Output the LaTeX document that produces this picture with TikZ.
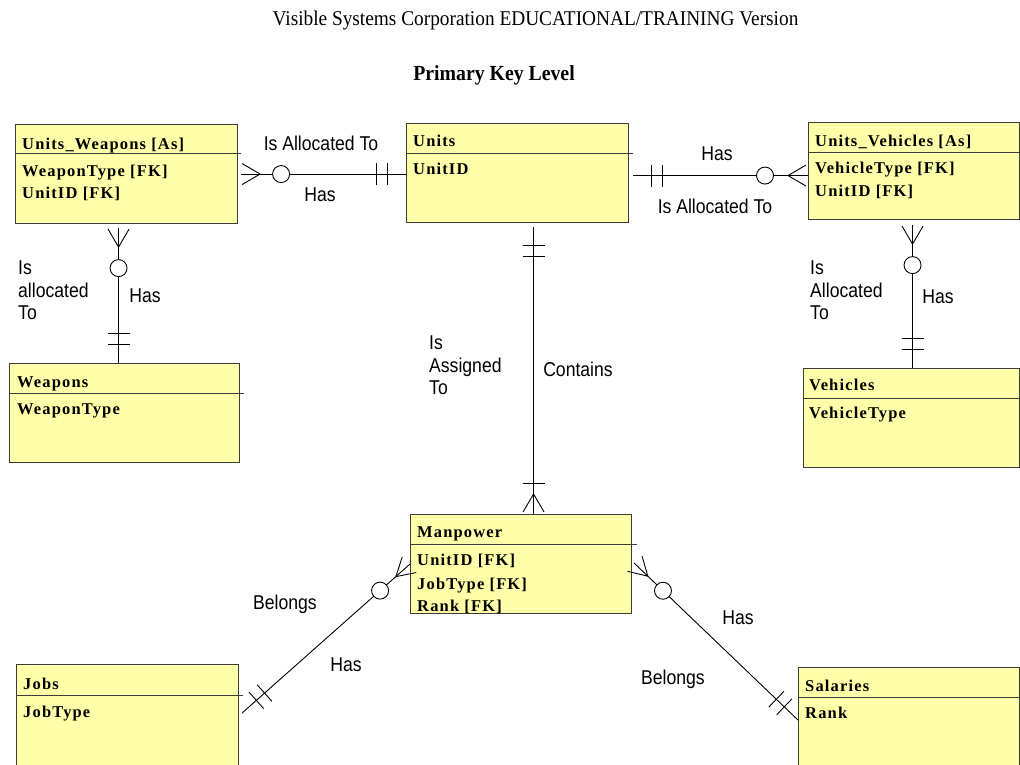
\documentclass[tikz,border=0pt]{standalone}
\usepackage{fontspec}
\setmainfont{Liberation Serif}
\newfontfamily\titlefont[FakeStretch=0.92]{Liberation Serif}
\newfontfamily\entfont[LetterSpace=7]{Liberation Serif}
\newfontfamily\labfont[FakeStretch=0.88]{Liberation Sans}
\usetikzlibrary{calc,decorations.markings}
\definecolor{entfill}{RGB}{255,255,170}
\definecolor{entline}{RGB}{60,60,60}
\tikzset{
  entity/.style={rectangle, draw=entline, line width=1.1pt, fill=entfill, anchor=north west, inner sep=0pt},
  sepline/.style={draw=entline, line width=1pt},
  etext/.style={anchor=base west, inner sep=0pt, font=\entfont\bfseries\fontsize{16.5}{18}\selectfont},
  rlabel/.style={anchor=base, inner sep=0pt, font=\labfont\fontsize{20}{22.5}\selectfont},
  rlabelm/.style={anchor=north west, inner sep=0pt, align=left, font=\labfont\fontsize{20}{22.5}\selectfont},
  conn/.style={draw=black, line width=0.9pt},
  tick/.style={draw=black, line width=0.9pt},
  crowS/.style={postaction={decorate,decoration={markings,
      mark=at position 19pt with {\draw[tick] (0pt,0pt) -- (-18pt,10.5pt) (0pt,0pt) -- (-18pt,-10.5pt);},
      mark=at position 40pt with {\draw[tick,fill=white] (0pt,0pt) circle (8.5pt);}}}},
  crowE/.style={postaction={decorate,decoration={markings,
      mark=at position -20pt with {\draw[tick] (0pt,0pt) -- (18pt,10.5pt) (0pt,0pt) -- (18pt,-10.5pt);},
      mark=at position -43pt with {\draw[tick,fill=white] (0pt,0pt) circle (8.5pt);}}}},
  manyE/.style={postaction={decorate,decoration={markings,
      mark=at position -20pt with {\draw[tick] (0pt,0pt) -- (18pt,10.5pt) (0pt,0pt) -- (18pt,-10.5pt);},
      mark=at position -31pt with {\draw[tick] (0pt,-11pt) -- (0pt,11pt);}}}},
  barsS/.style={postaction={decorate,decoration={markings,
      mark=at position 18pt with {\draw[tick] (0pt,-11pt) -- (0pt,11pt);},
      mark=at position 29pt with {\draw[tick] (0pt,-11pt) -- (0pt,11pt);}}}},
  barsE/.style={postaction={decorate,decoration={markings,
      mark=at position -19pt with {\draw[tick] (0pt,-11pt) -- (0pt,11pt);},
      mark=at position -30pt with {\draw[tick] (0pt,-11pt) -- (0pt,11pt);}}}},
}
\begin{document}
\begin{tikzpicture}[x=1pt,y=-1pt]
\useasboundingbox (0,0) rectangle (1020,764);
\fill[white] (0,0) rectangle (1020,764);
\clip (0,0) rectangle (1020,764);

% titles
\node[anchor=base, inner sep=0pt, font=\titlefont\fontsize{21}{24}\selectfont] (t1) at (535.5,25) {Visible Systems Corporation EDUCATIONAL/TRAINING Version};
\node[anchor=base, inner sep=0pt, font=\titlefont\bfseries\fontsize{21.5}{24}\selectfont] (t2) at (494,80) {Primary Key Level};

% entities
\node[entity, minimum width=222pt, minimum height=99pt] (uw) at (15,124) {};
\node[entity, minimum width=222pt, minimum height=99pt] (u) at (406,123) {};
\node[entity, minimum width=211pt, minimum height=97pt] (uv) at (808,122) {};
\node[entity, minimum width=230pt, minimum height=99pt] (w) at (9,363) {};
\node[entity, minimum width=216pt, minimum height=99pt] (v) at (803,368) {};
\node[entity, minimum width=221pt, minimum height=99pt] (mp) at (410,514) {};
\node[entity, minimum width=222pt, minimum height=130pt] (jobs) at (16,664) {};
\node[entity, minimum width=221pt, minimum height=130pt] (sal) at (798,667) {};

% separators
\draw[sepline] ($(uw.north west)+(0,29)$) -- ($(uw.north east)+(3,29)$);
\draw[sepline] ($(u.north west)+(0,30)$) -- ($(u.north east)+(4,30)$);
\draw[sepline] ($(uv.north west)+(0,30)$) -- ($(uv.north east)+(0,30)$);
\draw[sepline] ($(w.north west)+(0,30)$) -- ($(w.north east)+(4,30)$);
\draw[sepline] ($(v.north west)+(0,30)$) -- ($(v.north east)+(0,30)$);
\draw[sepline] ($(mp.north west)+(0,30)$) -- ($(mp.north east)+(5,30)$);
\draw[sepline] ($(jobs.north west)+(0,31)$) -- ($(jobs.north east)+(4,31)$);
\draw[sepline] ($(sal.north west)+(0,30)$) -- ($(sal.north east)+(0,30)$);

% entity texts
\node[etext] (uwh) at ($(uw.north west)+(7,25)$) {Units\_Weapons [As]};
\node[etext] (uw1) at ($(uw.north west)+(7,52)$) {WeaponType [FK]};
\node[etext] (uw2) at ($(uw.north west)+(7,74)$) {UnitID [FK]};
\node[etext] (uh) at ($(u.north west)+(7,23)$) {Units};
\node[etext] (u1) at ($(u.north west)+(7,51)$) {UnitID};
\node[etext] (uvh) at ($(uv.north west)+(7,24)$) {Units\_Vehicles [As]};
\node[etext] (uv1) at ($(uv.north west)+(7,51)$) {VehicleType [FK]};
\node[etext] (uv2) at ($(uv.north west)+(7,74)$) {UnitID [FK]};
\node[etext] (wh) at ($(w.north west)+(8,24)$) {Weapons};
\node[etext] (w1) at ($(w.north west)+(8,51)$) {WeaponType};
\node[etext] (vh) at ($(v.north west)+(6,22)$) {Vehicles};
\node[etext] (v1) at ($(v.north west)+(6,50)$) {VehicleType};
\node[etext] (mph) at ($(mp.north west)+(7,23)$) {Manpower};
\node[etext] (mp1) at ($(mp.north west)+(7,51)$) {UnitID [FK]};
\node[etext] (mp2) at ($(mp.north west)+(7,75)$) {JobType [FK]};
\node[etext] (mp3) at ($(mp.north west)+(7,97)$) {Rank [FK]};
\node[etext] (jh) at ($(jobs.north west)+(7,25)$) {Jobs};
\node[etext] (j1) at ($(jobs.north west)+(7,53)$) {JobType};
\node[etext] (sh) at ($(sal.north west)+(7,24)$) {Salaries};
\node[etext] (s1) at ($(sal.north west)+(7,51)$) {Rank};

% connector end points
\coordinate (uwB) at ($(uw.south)+(-8,4)$);
\coordinate (uvB) at ($(uv.south)+(-1.5,5)$);
\coordinate (uB) at ($(u.south)+(16,4)$);

% connectors
\draw[conn, crowS, barsE] ($(uw.east)+(3,0)$) -- (uw.east -| u.west);
\draw[conn, barsS, crowE] ($(u.east)+(4,2.5)$) -- ($(u.east -| uv.west)+(0,2.5)$);
\draw[conn, crowS, barsE] (uwB) -- (uwB |- w.north);
\draw[conn, crowS, barsE] (uvB) -- (uvB |- v.north);
\draw[conn, barsS, manyE] (uB) -- (uB |- mp.north);
\draw[conn, crowS, barsE] (mp.west) -- ($(jobs.north east)+(3,49)$);
\draw[conn, crowS, barsE] ($(mp.east)+(2,-1)$) -- ($(sal.north west)+(0,53)$);

% relationship labels
\node[rlabel] (l1) at (321,150) {Is Allocated To};
\node[rlabel] (l2) at (320,201) {Has};
\node[rlabel] (l3) at (717,160) {Has};
\node[rlabel] (l4) at (715,213) {Is Allocated To};
\node[rlabelm] (l5) at (18,261) {Is\\allocated\\To};
\node[rlabel] (l6) at (145,302) {Has};
\node[rlabelm] (l7) at (810,261) {Is\\Allocated\\To};
\node[rlabel] (l8) at (938,303) {Has};
\node[rlabelm] (l9) at (429,336) {Is\\Assigned\\To};
\node[rlabel] (l10) at (578,376) {Contains};
\node[rlabel] (l11) at (285,609) {Belongs};
\node[rlabel] (l12) at (346,671) {Has};
\node[rlabel] (l13) at (738,624) {Has};
\node[rlabel] (l14) at (673,684) {Belongs};
\end{tikzpicture}
\end{document}
